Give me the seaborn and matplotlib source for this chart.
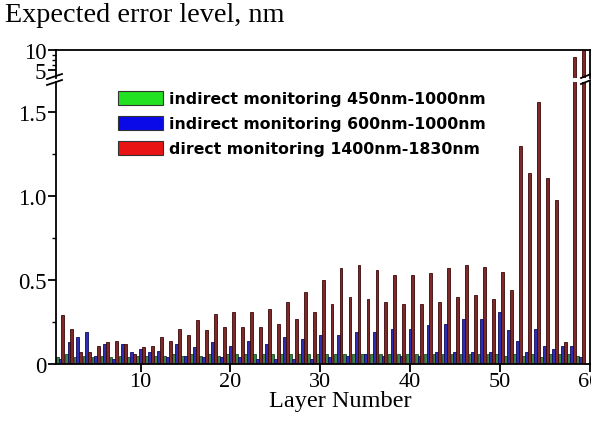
import numpy as np
import pandas as pd
import seaborn as sns
import matplotlib
matplotlib.use("Agg")
import matplotlib.pyplot as plt
from matplotlib.patches import Patch
from matplotlib.lines import Line2D
from matplotlib.ticker import MultipleLocator, FixedLocator

layers = list(range(1, 60))
series_names = ["indirect monitoring 450nm-1000nm",
                "indirect monitoring 600nm-1000nm",
                "direct monitoring 1400nm-1830nm"]

green_vals = [0.04, 0.06, 0.04, 0.05, 0.04, 0.05, 0.04, 0.05, 0.04, 0.05,
              0.05, 0.05, 0.05, 0.06, 0.05, 0.06, 0.05, 0.06, 0.05, 0.06,
              0.06, 0.06, 0.06, 0.06, 0.06, 0.06, 0.06, 0.06, 0.06, 0.06,
              0.06, 0.06, 0.06, 0.06, 0.06, 0.06, 0.06, 0.06, 0.06, 0.06,
              0.06, 0.06, 0.06, 0.06, 0.06, 0.06, 0.06, 0.06, 0.06, 0.06,
              0.05, 0.06, 0.05, 0.06, 0.04, 0.06, 0.06, 0.06, 0.05]
blue_vals = [0.03, 0.13, 0.16, 0.19, 0.05, 0.12, 0.03, 0.12, 0.07, 0.09,
             0.07, 0.08, 0.04, 0.12, 0.05, 0.10, 0.04, 0.13, 0.04, 0.11,
             0.04, 0.14, 0.03, 0.12, 0.03, 0.16, 0.03, 0.15, 0.03, 0.17,
             0.04, 0.17, 0.05, 0.19, 0.06, 0.19, 0.05, 0.21, 0.05, 0.21,
             0.05, 0.23, 0.07, 0.24, 0.07, 0.27, 0.07, 0.27, 0.07, 0.31,
             0.20, 0.14, 0.07, 0.21, 0.11, 0.09, 0.11, 0.11, 0.04]
red_vals = [0.29, 0.21, 0.07, 0.07, 0.11, 0.13, 0.14, 0.12, 0.06, 0.10,
            0.11, 0.16, 0.14, 0.21, 0.17, 0.26, 0.20, 0.30, 0.22, 0.31,
            0.22, 0.31, 0.22, 0.33, 0.24, 0.37, 0.27, 0.43, 0.31, 0.50,
            0.36, 0.57, 0.40, 0.59, 0.39, 0.56, 0.37, 0.53, 0.36, 0.53,
            0.36, 0.54, 0.37, 0.57, 0.40, 0.59, 0.41, 0.58, 0.39, 0.55,
            0.44, 1.30, 1.14, 1.56, 1.11, 0.98, 0.13, 8.3, 12.0]

lower_ticks = [0, 0.5, 1.0, 1.5]
lower_tick_labels = ["0", "0.5", "1.0", "1.5"]
upper_ticks = [5, 10]
upper_tick_labels = ["5", "10"]
x_ticks = [10, 20, 30, 40, 50, 60]

df = pd.DataFrame({
    "layer": layers * 3,
    "series": [series_names[0]] * len(layers) + [series_names[1]] * len(layers) + [series_names[2]] * len(layers),
    "value": green_vals + blue_vals + red_vals,
})

bar_colors = {series_names[0]: "#2f8f3c", series_names[1]: "#1818c8", series_names[2]: "#8e1a1a"}
edge_colors = ["#1d4a22", "#0c0c60", "#3a0808"]
legend_colors = ["#22e022", "#0a0ae8", "#e81414"]

W, H = 591, 431
fig = plt.figure(figsize=(W / 100, H / 100), dpi=100)

serif = ["Liberation Serif", "DejaVu Serif"]

def px_axes(left, right, top, bottom):
    return fig.add_axes([left / W, 1 - bottom / H, (right - left) / W, (bottom - top) / H])

ax_lo = px_axes(56, 589.5, 83, 365)
ax_hi = px_axes(56, 589.5, 51, 79)

for ax in (ax_lo, ax_hi):
    sns.barplot(data=df, x="layer", y="value", hue="series", hue_order=series_names,
                palette=bar_colors, native_scale=True, width=0.95, gap=0,
                errorbar=None, legend=False, ax=ax, linewidth=0.6)
    for cont, ec in zip(ax.containers, edge_colors):
        for p in cont:
            p.set_edgecolor(ec)
    ax.set_xlim(0.56, 60)
    ax.set_xlabel("")
    ax.set_ylabel("")
    ax.set_facecolor("white")
    for s in ax.spines.values():
        s.set_linewidth(1.3)
        s.set_color("black")

ax_lo.set_ylim(0, 1.68)
ax_lo.spines["top"].set_visible(False)
ax_lo.yaxis.set_major_locator(FixedLocator(lower_ticks))
ax_lo.set_yticklabels(lower_tick_labels)
ax_lo.yaxis.set_minor_locator(MultipleLocator(0.25))
ax_lo.xaxis.set_major_locator(FixedLocator(x_ticks))
ax_lo.set_xticklabels([str(t) for t in x_ticks])
ax_lo.tick_params(axis="y", which="major", direction="out", length=6, width=1.3,
                  labelsize=16.5, pad=1)
ax_lo.tick_params(axis="x", which="major", direction="out", length=6, width=1.3,
                  labelsize=16, pad=0)
ax_lo.tick_params(axis="y", which="minor", direction="out", length=3, width=1.0)
for lab in ax_lo.get_xticklabels() + ax_lo.get_yticklabels():
    lab.set_family(serif)

ax_hi.set_ylim(3.1, 10)
ax_hi.spines["bottom"].set_visible(False)
ax_hi.set_xticks([])
ax_hi.yaxis.set_major_locator(FixedLocator(upper_ticks))
ax_hi.set_yticklabels(upper_tick_labels)
ax_hi.yaxis.set_minor_locator(FixedLocator([6.25, 7.5, 8.75]))
ax_hi.tick_params(axis="y", which="major", direction="out", length=6, width=1.3,
                  labelsize=16.5, pad=1)
ax_hi.tick_params(axis="y", which="minor", direction="out", length=3, width=1.0)
for lab in ax_hi.get_yticklabels():
    lab.set_family(serif)

# break marks
def brk(x0, y0, x1, y1):
    fig.add_artist(Line2D([x0 / W, x1 / W], [1 - y0 / H, 1 - y1 / H],
                          transform=fig.transFigure, color="black", lw=1.3))
brk(47, 80, 62, 75)
brk(47, 86, 62, 81)
brk(581, 79, 591, 75)
brk(581, 85, 591, 81)

fig.text(5 / W, 1 - 16 / H, "Expected error level, nm", family=serif, fontsize=20.3,
         ha="left", va="center")
fig.text(340 / W, 1 - 402 / H, "Layer Number", family=serif, fontsize=17.5,
         ha="center", va="center")

handles = [Patch(facecolor=c, edgecolor="#333333", linewidth=0.8) for c in legend_colors]
leg = fig.legend(handles, series_names, loc="upper left",
                 bbox_to_anchor=(118 / W, 1 - 92 / H), frameon=False,
                 prop={"family": "DejaVu Sans", "weight": "bold", "size": 11.3},
                 handlelength=2.85, handleheight=1.0, handletextpad=0.4,
                 labelspacing=0.6, borderpad=0, borderaxespad=0)

fig.savefig("out.png", dpi=100, facecolor="white")
